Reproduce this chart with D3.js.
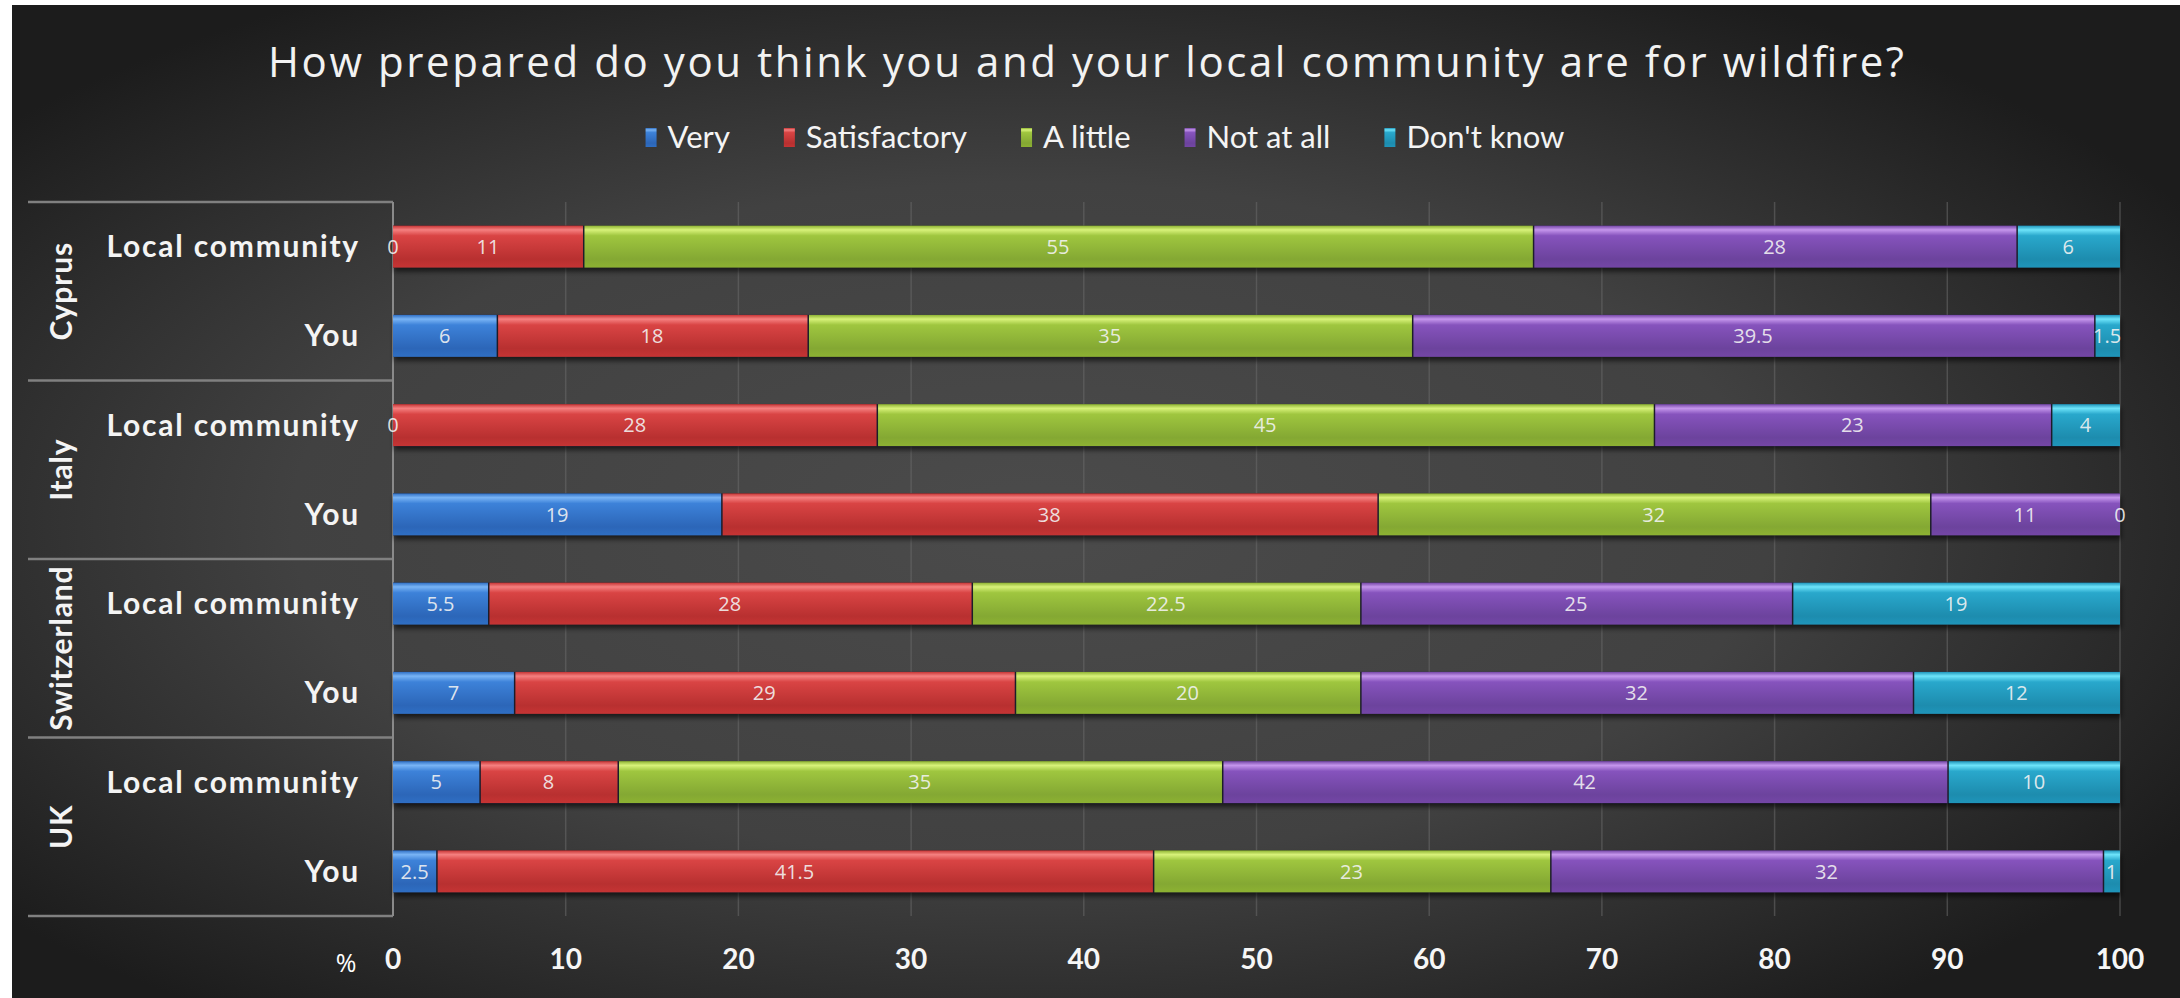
<!DOCTYPE html>
<html>
<head>
<meta charset="utf-8">
<script src="https://cdn.jsdelivr.net/npm/d3@7"></script>
<style>
  html, body { margin: 0; padding: 0; background: #ffffff; }
  svg { display: block; }
</style>
</head>
<body>
<svg id="chart" width="2180" height="998"></svg>
<script>
// ---- data ----
const countries = ["Cyprus", "Italy", "Switzerland", "UK"];
const respondents = ["Local community", "You"];
const seriesNames = ["Very", "Satisfactory", "A little", "Not at all", "Don't know"];

// one array per answer, in row order:
// Cyprus LC, Cyprus You, Italy LC, Italy You, Switzerland LC, Switzerland You, UK LC, UK You
const very         = [0,  6,    0,  19, 5.5,  7,  5,  2.5];
const satisfactory = [11, 18,   28, 38, 28,   29, 8,  41.5];
const aLittle      = [55, 35,   45, 32, 22.5, 20, 35, 23];
const notAtAll     = [28, 39.5, 23, 11, 25,   32, 42, 32];
const dontKnow     = [6,  1.5,  4,  0,  19,   12, 10, 1];

const xTicks = [0, 10, 20, 30, 40, 50, 60, 70, 80, 90, 100];
const titleText = "How prepared do you think you and your local community are for wildfire?";

// colours: [shadow edge, highlight, body, lower body]
const palette = {
  "Very":         ["#2f6fc4", "#79b4f5", "#3d82d9", "#2c66b8"],
  "Satisfactory": ["#c63434", "#f58080", "#d94444", "#b83030"],
  "A little":     ["#8db232", "#d8f27a", "#9fc63f", "#84a833"],
  "Not at all":   ["#7446a6", "#c596ec", "#8653bd", "#6c439d"],
  "Don't know":   ["#1f95ba", "#6ee4fa", "#29a8cc", "#1d8cae"]
};

// ---- build rows ----
const seriesValues = [very, satisfactory, aLittle, notAtAll, dontKnow];
const rows = [];
countries.forEach((c, ci) => {
  respondents.forEach((r, ri) => {
    const idx = ci * 2 + ri;
    const row = { key: c + "|" + r, country: c, who: r };
    seriesNames.forEach((s, si) => { row[s] = seriesValues[si][idx]; });
    rows.push(row);
  });
});

const stacked = d3.stack().keys(seriesNames)(rows);

// ---- geometry ----
const W = 2180, H = 998;
const plotTop = 202, plotBottom = 916;
const x = d3.scaleLinear().domain([0, 100]).range([393, 2120]);
const y = d3.scaleBand().domain(rows.map(d => d.key))
  .range([plotTop, plotBottom]).paddingInner(0.53).paddingOuter(0.265);
const groupY = d3.scaleBand().domain(countries).range([plotTop, plotBottom]);

const svg = d3.select("#chart");
const defs = svg.append("defs");

// background
const bg = defs.append("radialGradient").attr("id", "bgGrad")
  .attr("cx", 0.47).attr("cy", 0.52).attr("r", 0.62);
bg.append("stop").attr("offset", "0%").attr("stop-color", "#4b4b4b");
bg.append("stop").attr("offset", "55%").attr("stop-color", "#414141");
bg.append("stop").attr("offset", "100%").attr("stop-color", "#1c1c1c");

// bar gradients
seriesNames.forEach((s, i) => {
  const p = palette[s];
  const g = defs.append("linearGradient").attr("id", "bar" + i)
    .attr("x1", 0).attr("y1", 0).attr("x2", 0).attr("y2", 1);
  g.append("stop").attr("offset", "0%").attr("stop-color", p[0]);
  g.append("stop").attr("offset", "10%").attr("stop-color", p[1]);
  g.append("stop").attr("offset", "24%").attr("stop-color", p[2]);
  g.append("stop").attr("offset", "80%").attr("stop-color", p[3]);
  g.append("stop").attr("offset", "100%").attr("stop-color", p[0]);
});

const shadow = defs.append("filter").attr("id", "shadow")
  .attr("x", "-5%").attr("y", "-30%").attr("width", "110%").attr("height", "170%");
shadow.append("feDropShadow").attr("dx", 1).attr("dy", 4)
  .attr("stdDeviation", 2.5).attr("flood-color", "#000").attr("flood-opacity", 0.6);

svg.append("rect").attr("x", 12).attr("y", 5).attr("width", W - 12).attr("height", H - 5)
  .attr("fill", "url(#bgGrad)");

// ---- title ----
svg.append("text")
  .attr("x", 1086).attr("y", 77)
  .attr("text-anchor", "middle")
  .attr("font-family", "'Open Sans', sans-serif")
  .attr("font-size", 42)
  .attr("fill", "#f2f2f2")
  .attr("textLength", 1636).attr("lengthAdjust", "spacing")
  .text(titleText);

// ---- legend ----
const legend = svg.append("g").attr("font-family", "Lato, 'Open Sans', sans-serif")
  .attr("font-size", 31).attr("fill", "#f4f4f4");
const legendItems = legend.selectAll("g").data(seriesNames).join("g");
legendItems.append("rect").attr("class", "mk")
  .attr("width", 11).attr("height", 19).attr("y", 128)
  .attr("fill", (d, i) => "url(#bar" + i + ")");
legendItems.append("text").attr("y", 148).attr("x", 22).text(d => d);
const gap = 54;
let widths = [];
legendItems.each(function () {
  widths.push(22 + this.querySelector("text").getComputedTextLength());
});
const totalW = d3.sum(widths) + gap * (widths.length - 1);
let lx = 1105 - totalW / 2;
legendItems.attr("transform", (d, i) => {
  const t = "translate(" + lx + ",0)";
  lx += widths[i] + gap;
  return t;
});

// ---- gridlines ----
svg.append("g").selectAll("line").data(xTicks.filter(t => t > 0)).join("line")
  .attr("x1", d => x(d)).attr("x2", d => x(d))
  .attr("y1", plotTop).attr("y2", plotBottom)
  .attr("stroke", "#6a6a6a").attr("stroke-opacity", 0.55).attr("stroke-width", 1.5);

// ---- left category panel ----
const panel = svg.append("g");
const bounds = countries.map(c => groupY(c)).concat([plotBottom]);
panel.selectAll("line.h").data(bounds).join("line")
  .attr("x1", 28).attr("x2", 393)
  .attr("y1", d => d).attr("y2", d => d)
  .attr("stroke", "#808080").attr("stroke-width", 2.5);
panel.append("line")
  .attr("x1", 393).attr("x2", 393).attr("y1", plotTop).attr("y2", plotBottom)
  .attr("stroke", "#8a8a8a").attr("stroke-width", 2);

panel.selectAll("text.country").data(countries).join("text")
  .attr("class", "country")
  .attr("transform", d => "translate(72," + (groupY(d) + groupY.bandwidth() / 2) + ") rotate(-90)")
  .attr("text-anchor", "middle")
  .attr("font-family", "Lato, 'Open Sans', sans-serif")
  .attr("font-weight", "bold").attr("font-size", 30)
  .attr("letter-spacing", 0.8)
  .attr("fill", "#f4f4f4")
  .text(d => d);

panel.selectAll("text.who").data(rows).join("text")
  .attr("class", "who")
  .attr("x", 360).attr("y", d => y(d.key) + y.bandwidth() / 2)
  .attr("dy", "0.35em")
  .attr("text-anchor", "end")
  .attr("font-family", "Lato, 'Open Sans', sans-serif")
  .attr("font-weight", "bold").attr("font-size", 30)
  .attr("letter-spacing", 1.8)
  .attr("fill", "#f4f4f4")
  .text(d => d.who);

// ---- bars ----
const barsG = svg.append("g");
// dark base under each stacked bar, carrying the drop shadow
barsG.selectAll("rect.base").data(rows).join("rect")
  .attr("class", "base")
  .attr("x", x(0)).attr("y", d => y(d.key))
  .attr("width", d => x(d3.sum(seriesNames, s => d[s])) - x(0))
  .attr("height", y.bandwidth())
  .attr("fill", "#1e1e2a")
  .attr("filter", "url(#shadow)");

const layers = barsG.selectAll("g.layer").data(stacked).join("g").attr("class", "layer");
layers.selectAll("rect").data((L, i) => L.map(d => ({ d, i }))).join("rect")
  .attr("x", o => x(o.d[0]) + (o.d[0] > 0 ? 1.5 : 0))
  .attr("y", o => y(o.d.data.key))
  .attr("width", o => Math.max(0, x(o.d[1]) - x(o.d[0]) - (o.d[0] > 0 ? 1.5 : 0)))
  .attr("height", y.bandwidth())
  .attr("fill", o => "url(#bar" + o.i + ")");

// value labels
const labelsG = svg.append("g")
  .attr("font-family", "'Open Sans', sans-serif")
  .attr("font-size", 20).attr("fill", "#f3f3f3").attr("fill-opacity", 0.9)
  .attr("text-anchor", "middle");
stacked.forEach((L) => {
  labelsG.selectAll(null).data(L).join("text")
    .attr("x", d => x((d[0] + d[1]) / 2))
    .attr("y", d => y(d.data.key) + y.bandwidth() / 2)
    .attr("dy", "0.36em")
    .text(d => d3.format("~g")(d[1] - d[0]));
});

// ---- x axis labels ----
const axisG = svg.append("g")
  .attr("font-family", "Lato, 'Open Sans', sans-serif")
  .attr("font-weight", "bold").attr("font-size", 28).attr("fill", "#f6f6f6")
  .attr("text-anchor", "middle");
axisG.selectAll("text").data(xTicks).join("text")
  .attr("x", d => x(d)).attr("y", 969)
  .text(d => d);
svg.append("text").attr("x", 346).attr("y", 972)
  .attr("text-anchor", "middle")
  .attr("font-family", "'Open Sans', sans-serif")
  .attr("font-size", 25).attr("fill", "#ffffff")
  .text("%");
</script>
</body>
</html>
